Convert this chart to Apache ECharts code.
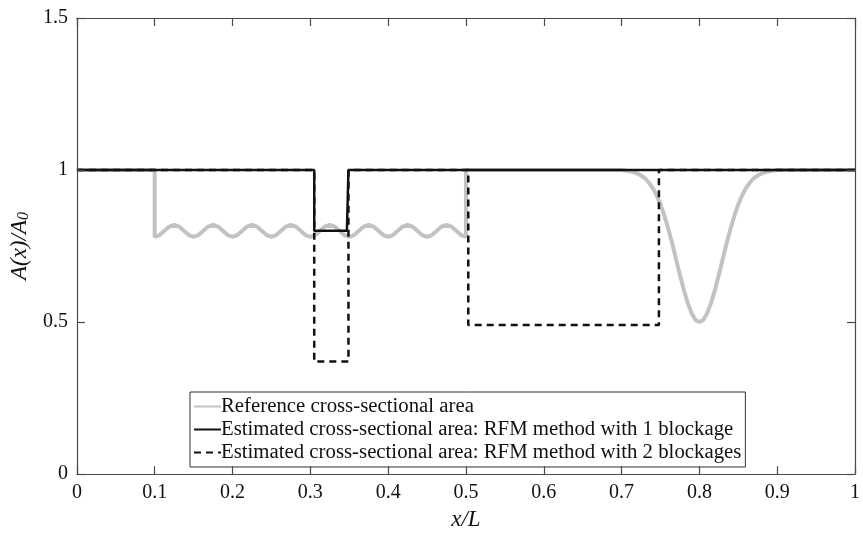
<!DOCTYPE html>
<html>
<head>
<meta charset="utf-8">
<script src="https://cdn.jsdelivr.net/npm/echarts@6/dist/echarts.min.js"></script>
<style>
  html, body { margin: 0; padding: 0; background: #fff; }
  #chart { width: 863px; height: 536px; }
</style>
</head>
<body>
<div id="chart"></div>
<script>
// x ticks and y ticks
var xTicks = [0, 0.1, 0.2, 0.3, 0.4, 0.5, 0.6, 0.7, 0.8, 0.9, 1];
var yTicks = [0, 0.5, 1, 1.5];

// reference area: step at 0.1, ripple until 0.5, gaussian dip at 0.8
var refData = [
  [0, 1], [0.1, 1],
  [0.1, 0.78], [0.10625, 0.786], [0.1125, 0.80], [0.11875, 0.814], [0.125, 0.82], [0.13125, 0.814], [0.1375, 0.80], [0.14375, 0.786],
  [0.15, 0.78], [0.15625, 0.786], [0.1625, 0.80], [0.16875, 0.814], [0.175, 0.82], [0.18125, 0.814], [0.1875, 0.80], [0.19375, 0.786],
  [0.2, 0.78], [0.20625, 0.786], [0.2125, 0.80], [0.21875, 0.814], [0.225, 0.82], [0.23125, 0.814], [0.2375, 0.80], [0.24375, 0.786],
  [0.25, 0.78], [0.25625, 0.786], [0.2625, 0.80], [0.26875, 0.814], [0.275, 0.82], [0.28125, 0.814], [0.2875, 0.80], [0.29375, 0.786],
  [0.3, 0.78], [0.30625, 0.786], [0.3125, 0.80], [0.31875, 0.814], [0.325, 0.82], [0.33125, 0.814], [0.3375, 0.80], [0.34375, 0.786],
  [0.35, 0.78], [0.35625, 0.786], [0.3625, 0.80], [0.36875, 0.814], [0.375, 0.82], [0.38125, 0.814], [0.3875, 0.80], [0.39375, 0.786],
  [0.4, 0.78], [0.40625, 0.786], [0.4125, 0.80], [0.41875, 0.814], [0.425, 0.82], [0.43125, 0.814], [0.4375, 0.80], [0.44375, 0.786],
  [0.45, 0.78], [0.45625, 0.786], [0.4625, 0.80], [0.46875, 0.814], [0.475, 0.82], [0.48125, 0.814], [0.4875, 0.80], [0.49375, 0.786],
  [0.5, 0.78], [0.5, 1],
  [0.7, 1], [0.71, 0.996], [0.715, 0.993], [0.72, 0.989], [0.725, 0.982], [0.73, 0.973], [0.735, 0.959],
  [0.74, 0.941], [0.745, 0.917], [0.75, 0.887], [0.755, 0.850], [0.76, 0.807], [0.765, 0.759], [0.77, 0.707],
  [0.775, 0.655], [0.78, 0.606], [0.785, 0.563], [0.79, 0.529], [0.795, 0.507], [0.8, 0.5],
  [0.805, 0.507], [0.81, 0.529], [0.815, 0.563], [0.82, 0.606], [0.825, 0.655], [0.83, 0.707], [0.835, 0.759],
  [0.84, 0.807], [0.845, 0.850], [0.85, 0.887], [0.855, 0.917], [0.86, 0.941], [0.865, 0.959], [0.87, 0.973],
  [0.875, 0.982], [0.88, 0.989], [0.885, 0.993], [0.89, 0.996], [0.9, 1], [1, 1]
];

// RFM estimate with one blockage
var oneBlockData = [[0, 1], [0.305, 1], [0.305, 0.8], [0.347, 0.8], [0.349, 1], [1, 1]];

// RFM estimate with two blockages
var twoBlockData = [[0, 1], [0.305, 1], [0.305, 0.37], [0.349, 0.37], [0.349, 1],
  [0.503, 1], [0.503, 0.49], [0.748, 0.49], [0.748, 1], [1, 1]];

var seriesNames = [
  'Reference cross-sectional area',
  'Estimated cross-sectional area: RFM method with 1 blockage',
  'Estimated cross-sectional area: RFM method with 2 blockages'
];

var serif = 'Liberation Serif';
var axisColor = '#4a4a4a';
var txt = '#111';

function tickLabel(list) {
  return function (v) {
    var r = Math.round(v * 10) / 10;
    return list.indexOf(r) >= 0 ? String(r) : '';
  };
}

// fresh objects each time, echarts may merge into them
function tickStyle() {
  return { show: true, inside: true, length: 8, lineStyle: { color: axisColor, width: 1.2, opacity: 1 } };
}
function axisLine() {
  return { show: true, onZero: false, lineStyle: { color: axisColor, width: 1.2 } };
}

var chart = echarts.init(document.getElementById('chart'));

var option = {
  animation: false,
  textStyle: { fontFamily: serif },
  grid: { left: 75, right: 1, top: 18, bottom: 58 },
  legend: {
    orient: 'vertical',
    left: 190,
    top: 392,
    itemWidth: 27,
    itemHeight: 10,
    itemGap: 2,
    padding: [4, 4, 4, 3],
    borderColor: '#333',
    borderWidth: 1,
    backgroundColor: '#fff',
    itemStyle: { opacity: 0 },
    textStyle: { fontFamily: serif, fontSize: 20.8, lineHeight: 21, color: txt, padding: [0, 0, 0, -5] },
    data: seriesNames
  },
  xAxis: [{
    type: 'value', min: 0, max: 1, interval: 0.1, position: 'bottom', z: 10,
    name: 'x/L', nameLocation: 'middle', nameGap: 30,
    nameTextStyle: { fontFamily: serif, fontStyle: 'italic', fontSize: 23, color: txt },
    axisLine: axisLine(),
    axisTick: tickStyle(),
    axisLabel: { fontFamily: serif, fontSize: 20, color: txt, margin: 9, formatter: tickLabel(xTicks) },
    splitLine: { show: false }
  }, {
    type: 'value', min: 0, max: 1, interval: 0.1, position: 'top', z: 10,
    axisLine: axisLine(),
    axisTick: tickStyle(),
    axisLabel: { show: false },
    splitLine: { show: false }
  }],
  yAxis: [{
    type: 'value', min: 0, max: 1.5, interval: 0.5, position: 'left', z: 10,
    name: '{i|A}(x)/{i|A}{s|0}', nameLocation: 'middle', nameGap: 42, nameRotate: 90,
    nameTextStyle: {
      fontFamily: serif, fontStyle: 'italic', fontSize: 23, color: txt,
      rich: {
        i: { fontFamily: serif, fontStyle: 'italic', fontSize: 23, color: txt },
        s: { fontFamily: serif, fontSize: 16, color: txt, verticalAlign: 'bottom', padding: [9, 0, 0, 0] }
      }
    },
    axisLine: axisLine(),
    axisTick: tickStyle(),
    axisLabel: { fontFamily: serif, fontSize: 20, color: txt, margin: 9, formatter: tickLabel(yTicks) },
    splitLine: { show: false }
  }, {
    type: 'value', min: 0, max: 1.5, interval: 0.5, position: 'right', z: 10,
    axisLine: axisLine(),
    axisTick: tickStyle(),
    axisLabel: { show: false },
    splitLine: { show: false }
  }],
  series: [{
    name: seriesNames[0], type: 'line', data: refData,
    showSymbol: false, symbol: 'none',
    lineStyle: { color: '#c2c2c2', width: 4 },
    itemStyle: { color: '#c2c2c2' },
    z: 2
  }, {
    name: seriesNames[1], type: 'line', data: oneBlockData,
    showSymbol: false, symbol: 'none',
    lineStyle: { color: '#111', width: 2.5 },
    itemStyle: { color: '#111' },
    z: 3
  }, {
    name: seriesNames[2], type: 'line', data: twoBlockData,
    showSymbol: false, symbol: 'none',
    lineStyle: { color: '#111', width: 2.5, type: [7, 5] },
    itemStyle: { color: '#111' },
    z: 4
  }]
};

chart.setOption(option);
</script>
</body>
</html>
